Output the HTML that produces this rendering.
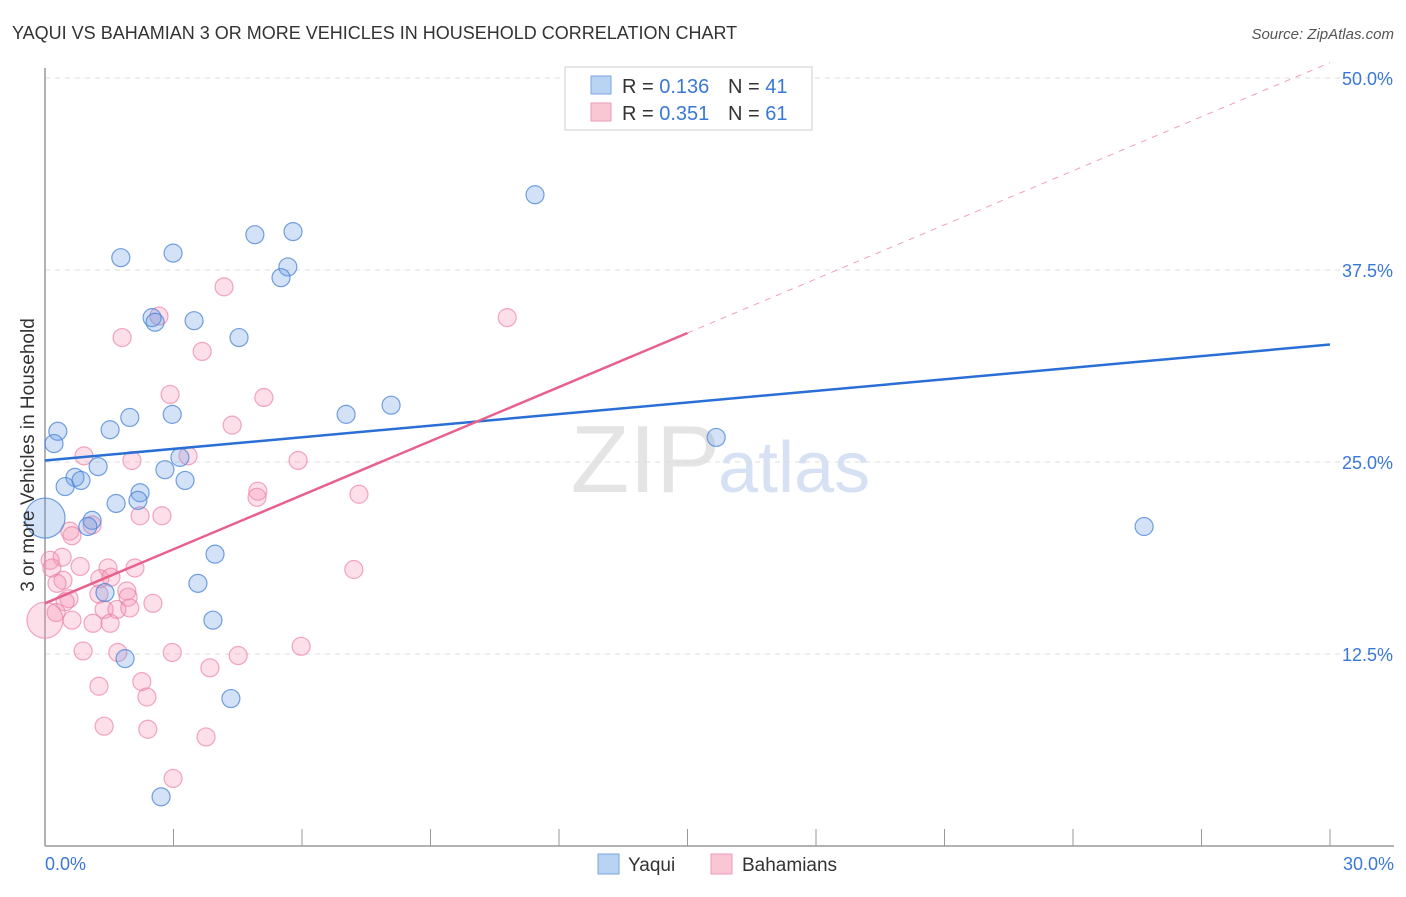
<!DOCTYPE html>
<html><head><meta charset="utf-8"><style>
body{margin:0;background:#fff;font-family:"Liberation Sans",sans-serif}
svg text{font-family:"Liberation Sans",sans-serif}
</style></head><body>
<svg id="c" width="1406" height="892" viewBox="0 0 1406 892">
<text x="12" y="39" font-size="18" fill="#333">YAQUI VS BAHAMIAN 3 OR MORE VEHICLES IN HOUSEHOLD CORRELATION CHART</text>
<text x="1394" y="39" font-size="15" fill="#555" font-style="italic" text-anchor="end">Source: ZipAtlas.com</text>
<text x="720" y="492" font-size="96" fill="#e4e4e4" font-family="Liberation Serif" text-anchor="end">ZIP</text>
<text x="718" y="492" font-size="72" fill="#d6e2f3">atlas</text>
<g id="grid"></g>
<g id="axes"></g>
<g id="pts"></g>
<g id="lines"></g>
<text transform="translate(34,455) rotate(-90)" font-size="19" fill="#333" text-anchor="middle">3 or more Vehicles in Household</text>
<g>
<rect x="565" y="67" width="247" height="63" fill="#fff" stroke="#ccc"/>
<rect x="591" y="76" width="20" height="18" fill="#b9d3f3" stroke="#7aa6e0"/>
<rect x="591" y="103" width="20" height="18" fill="#f9c6d4" stroke="#ee9ab4"/>
<text x="622" y="93" font-size="20" fill="#333">R = <tspan fill="#3a78d6">0.136</tspan></text>
<text x="728" y="93" font-size="20" fill="#333">N = <tspan fill="#3a78d6">41</tspan></text>
<text x="622" y="120" font-size="20" fill="#333">R = <tspan fill="#3a78d6">0.351</tspan></text>
<text x="728" y="120" font-size="20" fill="#333">N = <tspan fill="#3a78d6">61</tspan></text>
</g>
<g>
<rect x="598" y="854" width="21" height="20" fill="#b9d3f3" stroke="#7aa6e0"/>
<text x="628" y="871" font-size="19" fill="#333">Yaqui</text>
<rect x="711" y="854" width="21" height="20" fill="#f9c6d4" stroke="#ee9ab4"/>
<text x="742" y="871" font-size="19" fill="#333">Bahamians</text>
</g>
</svg>
<script>
const yTicks=[12.5,25,37.5,50];
const yTickLabels=["12.5%","25.0%","37.5%","50.0%"];
const xTicks=[0,3,6,9,12,15,18,21,24,27,30];
const yaquiX=[11.44,5.79,4.90,1.77,2.99,5.67,5.51,2.50,2.57,3.48,4.53,8.08,7.03,1.98,2.97,1.52,0.30,0.21,15.67,3.15,1.24,2.80,0.70,0.84,0.47,3.27,2.22,1.66,2.17,1.10,1.00,25.66,3.97,3.57,1.40,3.92,1.87,4.34,2.71,0];
const yaquiY=[42.4,40.0,39.8,38.3,38.6,37.7,37.0,34.4,34.1,34.2,33.1,28.7,28.1,27.9,28.1,27.1,27.0,26.2,26.6,25.3,24.7,24.5,24.0,23.8,23.4,23.8,23.0,22.3,22.5,21.2,20.8,20.8,19.0,17.1,16.5,14.7,12.2,9.6,3.2,21.35];
const bahX=[2.66,4.18,10.79,1.80,3.67,2.92,5.11,4.37,0.91,3.34,2.03,5.91,4.97,4.95,7.33,2.22,2.73,0.58,0.63,1.10,0.40,0.12,0.16,0.82,1.47,2.10,7.21,0.42,0.28,1.28,1.54,0.56,0.47,1.26,1.91,1.94,2.52,1.38,1.68,1.98,0.63,1.12,1.52,0.26,0,0.89,1.70,2.97,4.51,5.98,3.85,1.26,2.26,2.38,1.38,2.40,3.76,2.99];
const bahY=[34.5,36.4,34.4,33.1,32.2,29.4,29.2,27.4,25.4,25.4,25.1,25.1,23.1,22.7,22.9,21.5,21.5,20.5,20.2,20.9,18.8,18.6,18.1,18.2,18.1,18.1,18.0,17.3,17.1,17.4,17.5,16.1,15.9,16.4,16.6,16.2,15.8,15.4,15.4,15.5,14.7,14.5,14.5,15.2,14.7,12.7,12.6,12.6,12.4,13.0,11.6,10.4,10.7,9.7,7.8,7.6,7.1,4.4];
const yaquiTrend=[25.1,32.65];
const bahTrend=[15.8,33.4];
const NS="http://www.w3.org/2000/svg";
const sx=v=>45+v/30*1285, sy=v=>846-v*15.36;
function mk(tag,parent,attrs){const e=document.createElementNS(NS,tag);for(const k in attrs)e.setAttribute(k,attrs[k]);document.getElementById(parent).appendChild(e);return e;}
yTicks.forEach((t,i)=>{
 const g=mk('line','grid',{x1:45,x2:1394,y1:sy(t),y2:sy(t),stroke:'#ddd','stroke-dasharray':'5,5'});
 
 
 const tx=mk('text','axes',{x:1393,y:sy(t)+7,'font-size':18,fill:'#3a78d6','text-anchor':'end'});
 tx.textContent=yTickLabels[i];
 
 
});
const ya=mk('line','axes',{x1:45,x2:45,y1:68,y2:846,stroke:'#999','stroke-width':1.5});


const xa=mk('line','axes',{x1:45,x2:1394,y1:846,y2:846,stroke:'#999','stroke-width':1.5});


xTicks.forEach(t=>{
 const l=mk('line','axes',{x1:sx(t),x2:sx(t),y1:829,y2:846,stroke:'#999'});
 
 
});
const xl0=mk('text','axes',{x:45,y:870,'font-size':18,fill:'#3a78d6'});xl0.textContent='0.0%';


const xl1=mk('text','axes',{x:1394,y:870,'font-size':18,fill:'#3a78d6','text-anchor':'end'});xl1.textContent='30.0%';


bahX.forEach((x,i)=>{
 const big=(x===0);
 const c=mk('circle','pts',{cx:sx(x),cy:sy(bahY[i]),r:big?18:9,fill:'rgba(244,150,180,0.3)',stroke:'rgba(236,130,165,0.7)','stroke-width':1.2});
 
 
});
yaquiX.forEach((x,i)=>{
 const big=(x===0);
 const c=mk('circle','pts',{cx:sx(x),cy:sy(yaquiY[i]),r:big?20:9,fill:'rgba(110,160,230,0.3)',stroke:'rgba(70,130,215,0.75)','stroke-width':1.2});
 
 
});
const bl=mk('line','lines',{x1:sx(0),y1:sy(yaquiTrend[0]),x2:sx(30),y2:sy(yaquiTrend[1]),stroke:'#2a6fd6','stroke-width':2.5});


const slope=(bahTrend[1]-bahTrend[0])/15;
const pl=mk('line','lines',{x1:sx(0),y1:sy(bahTrend[0]),x2:sx(15),y2:sy(bahTrend[1]),stroke:'#e8608c','stroke-width':2.5});


const xe=(51-bahTrend[0])/slope;
const pd=mk('line','lines',{x1:sx(15),y1:sy(bahTrend[1]),x2:sx(xe),y2:sy(51),stroke:'#eea0b8','stroke-width':1,'stroke-dasharray':'6,6'});


</script>
</body></html>
